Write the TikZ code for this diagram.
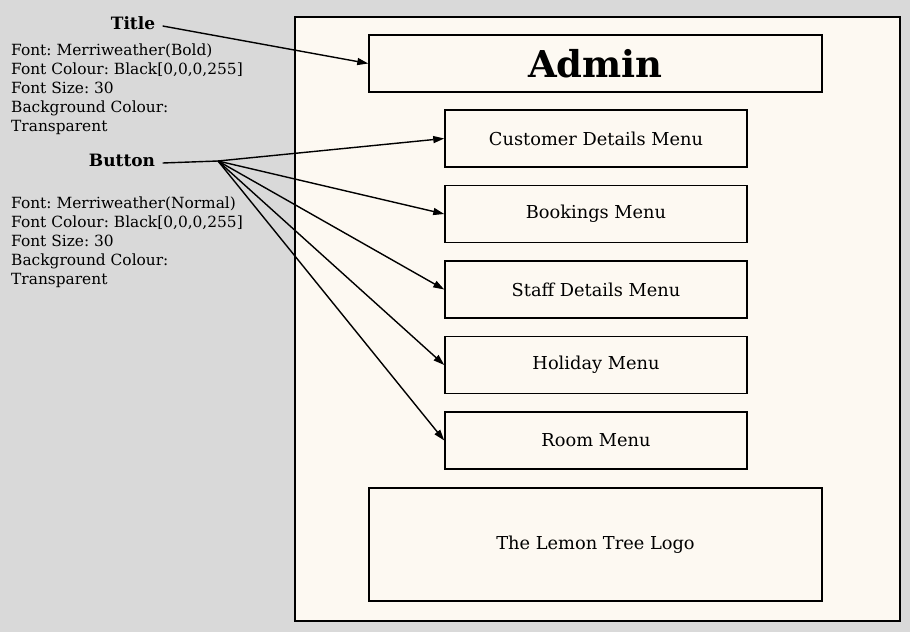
\documentclass[tikz,border=0pt]{standalone}
\usepackage{fontspec}
\setmainfont{DejaVu Serif}
\usetikzlibrary{positioning, arrows.meta}
\definecolor{pagegrey}{HTML}{D9D9D9}
\definecolor{paper}{HTML}{FDF9F2}
\frenchspacing
\tikzset{x=1pt, y=-1pt, % one unit is one pixel of the mock-up, y runs down
node distance=17pt, % gap between the menu buttons
panel/.style={ % The screen itself
draw, fill=paper, line width=1.5pt, anchor=north west,
minimum width=605pt, minimum height=604pt},
titlebox/.style={ % Heading bar
draw, fill=paper, line width=1.5pt, inner sep=0pt,
minimum width=453pt, minimum height=57pt,
font=\fontsize{37}{40}\selectfont\bfseries},
menubox/.style={ % One of the menu buttons
draw, fill=paper, line width=1.5pt, inner sep=0pt,
minimum width=302pt, minimum height=57pt,
font=\fontsize{17.8}{20}\selectfont},
logobox/.style={ % Space for the logo
menubox, minimum width=453pt, minimum height=113pt},
label/.style={font=\fontsize{17}{20}\selectfont\bfseries},
note/.style={ % Notes next to the screen
anchor=north west, align=left, inner sep=0pt,
font=\fontsize{15.4}{19}\selectfont},
pointer/.style={ % Arrows from the notes to the widgets
draw, line width=1.4pt, -{Triangle[length=11pt,width=7pt]}}}

\begin{document}
\begin{tikzpicture}

    \fill[pagegrey] (0,0) rectangle (910,632);
    \useasboundingbox (0,0) rectangle (910,632);

    \node[panel] (screen) at (294,16) {};
    \node[titlebox] (admin) at (595.5,63.5) {Admin};
    \node[menubox] (cust) at (596,138.5) {Customer Details Menu};
    \node[menubox, below=of cust] (book) {Bookings Menu};
    \node[menubox, below=of book] (staff) {Staff Details Menu};
    \node[menubox, below=of staff] (hol) {Holiday Menu};
    \node[menubox, below=of hol] (room) {Room Menu};
    \node[logobox] (logo) at (595.5,544.5) {The Lemon Tree Logo};

    \node[label] (titlelbl) at (133,23) {Title};
    \node[note] (titlenote) at (11,43.5) {Font: Merriweather(Bold)\\Font Colour: Black[0,0,0,255]\\Font Size: 30\\Background Colour:\\Transparent};
    \node[label] (btnlbl) at (122,160) {Button};
    \node[note] (btnnote) at (11,196.5) {Font: Merriweather(Normal)\\Font Colour: Black[0,0,0,255]\\Font Size: 30\\Background Colour:\\Transparent};

    \coordinate (fan) at (218,161);
    \draw[pointer] ([xshift=4pt,yshift=-3pt]titlelbl.east) -- (admin.west);
    \draw[line width=1.4pt] ([xshift=4pt,yshift=-3pt]btnlbl.east) -- (fan);
    \foreach \b in {cust,book,staff,hol,room}
        \draw[pointer] (fan) -- (\b.west);

\end{tikzpicture}
\end{document}
